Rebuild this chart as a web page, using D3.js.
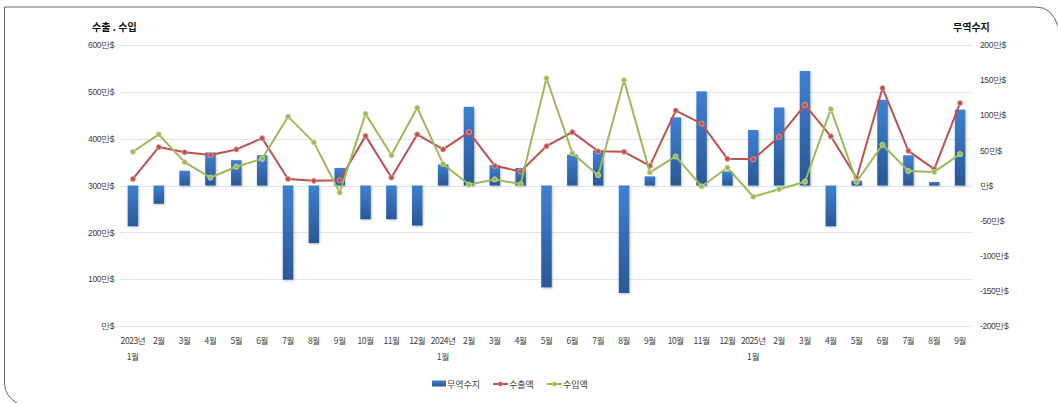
<!DOCTYPE html>
<html><head><meta charset="utf-8">
<script src="https://cdn.jsdelivr.net/npm/d3@7"></script>
<style>
html,body{margin:0;padding:0;background:#fff;}
svg{display:block;font-family:"Noto Sans CJK KR","Noto Sans",sans-serif;}
</style></head>
<body><svg id="c" width="1058" height="403"></svg>
<script>
const monthLabels = ["2023년","2월","3월","4월","5월","6월","7월","8월","9월","10월","11월","12월",
  "2024년","2월","3월","4월","5월","6월","7월","8월","9월","10월","11월","12월",
  "2025년","2월","3월","4월","5월","6월","7월","8월","9월"];
const monthSub = ["1월","","","","","","","","","","","","1월","","","","","","","","","","","","1월","","","","","","","",""];
const exportVals = [314,382,371,365,377,401,314,310,311,406,317,409,
  377,414,342,330,384,414,373,372,342,460,432,357,
  356,404,472,405,316,508,374,335,476];
const importVals = [372,409,350,317,340,357,447,392,285,453,365,466,
  346,302,313,303,529,369,322,525,328,362,298,338,
  276,292,308,463,308,387,331,329,367];
const balanceVals = [-58,-26,21,47,36,43,-134,-82,25,-48,-48,-57,
  30,112,29,25,-145,44,50,-153,13,97,134,20,
  79,111,163,-58,7,122,43,5,108];
const leftTicks = [0,100,200,300,400,500,600];
const rightTicks = [-200,-150,-100,-50,0,50,100,150,200];
const seriesNames = ["무역수지","수출액","수입액"];
const leftTitle = "수출 . 수입";
const rightTitle = "무역수지";

const svg = d3.select("#c");
const L=120, R=973, T=45, B=326;
const x = d3.scaleBand().domain(d3.range(monthLabels.length)).range([L,R]).padding(0);
const yL = d3.scaleLinear().domain([0,600]).range([B,T]);
const yR = d3.scaleLinear().domain([-200,200]).range([B,T]);
const cx = i => x(i)+x.bandwidth()/2;

const defs = svg.append("defs");
const g1 = defs.append("linearGradient").attr("id","barg").attr("x1",0).attr("y1",0).attr("x2",0).attr("y2",1);
g1.append("stop").attr("offset","0%").attr("stop-color","#3f80d2");
g1.append("stop").attr("offset","100%").attr("stop-color","#2a5896");
const f = defs.append("filter").attr("id","sh").attr("x","-30%").attr("y","-10%").attr("width","160%").attr("height","130%");
f.append("feDropShadow").attr("dx",0.8).attr("dy",1).attr("stdDeviation",0.8).attr("flood-color","#000").attr("flood-opacity",0.25);

// border
svg.append("path")
  .attr("d","M1058,26 Q1052,7 1036,7 L4.5,7 L4.5,384 Q5,396 17,403")
  .attr("fill","none").attr("stroke","#666").attr("stroke-width",1);

// gridlines
svg.append("g").selectAll("line").data(leftTicks).join("line")
  .attr("x1",L).attr("x2",R).attr("y1",d=>Math.round(yL(d))+0.5).attr("y2",d=>Math.round(yL(d))+0.5)
  .attr("stroke","#dbe5f1").attr("stroke-width",1);

// left axis
const axL = d3.axisLeft(yL).tickValues(leftTicks).tickSize(0).tickPadding(6)
  .tickFormat(d => (d===0?"":d)+"만$");
const gL = svg.append("g").attr("transform",`translate(${L},0)`).call(axL);
gL.select(".domain").remove();
gL.selectAll("text").attr("font-size",8.5).attr("fill","#404040").attr("letter-spacing",-0.4);

// right axis
const axR = d3.axisRight(yR).tickValues(rightTicks).tickSize(0).tickPadding(7)
  .tickFormat(d => (d===0?"":d)+"만$");
const gR = svg.append("g").attr("transform",`translate(${R},0)`).call(axR);
gR.select(".domain").remove();
gR.selectAll("text").attr("font-size",8.5).attr("fill","#404040").attr("letter-spacing",-0.4);

// titles
svg.append("text").attr("x",92).attr("y",31).attr("font-size",10).attr("font-weight","bold").attr("fill","#111").text(leftTitle);
svg.append("text").attr("x",953).attr("y",31).attr("font-size",10).attr("font-weight","bold").attr("fill","#111").text(rightTitle);

// x labels
const xg = svg.append("g");
xg.selectAll("text.m").data(monthLabels).join("text").attr("class","m")
  .attr("x",(d,i)=>cx(i)).attr("y",344).attr("text-anchor","middle")
  .attr("font-size",8.5).attr("fill","#404040").attr("letter-spacing",-0.4).text(d=>d);
xg.selectAll("text.s").data(monthSub).join("text").attr("class","s")
  .attr("x",(d,i)=>cx(i)).attr("y",360).attr("text-anchor","middle")
  .attr("font-size",8.5).attr("fill","#404040").text(d=>d);

// bars
const bw = 10.5;
svg.append("g").selectAll("rect").data(balanceVals).join("rect")
  .attr("x",(d,i)=>cx(i)-bw/2).attr("width",bw)
  .attr("y",d=>Math.min(yR(d),yR(0))).attr("height",d=>Math.abs(yR(d)-yR(0)))
  .attr("fill","url(#barg)").attr("filter","url(#sh)");

// lines
const line = d3.line().x((d,i)=>cx(i)).y(d=>yL(d));
function drawSeries(vals,color,light){
  svg.append("path").datum(vals).attr("d",line).attr("fill","none")
    .attr("stroke",color).attr("stroke-width",2).attr("stroke-linejoin","round");
  svg.append("g").selectAll("circle").data(vals).join("circle")
    .attr("cx",(d,i)=>cx(i)).attr("cy",d=>yL(d)).attr("r",2.6)
    .attr("fill",color).attr("stroke",light).attr("stroke-width",0.8);
}
drawSeries(exportVals,"#c0504d","#e9a7a5");
drawSeries(importVals,"#9bbb59","#cfe0a8");

// legend
const lg = svg.append("g").attr("transform","translate(0,384)");
lg.append("rect").attr("x",432).attr("y",-3.5).attr("width",14).attr("height",6).attr("fill","url(#barg)");
lg.append("text").attr("x",447).attr("y",3.5).attr("font-size",9).attr("fill","#404040").text(seriesNames[0]);
[[493,"#c0504d","#e9a7a5",seriesNames[1]],[547,"#9bbb59","#cfe0a8",seriesNames[2]]].forEach(([lx,c,lc,t])=>{
  lg.append("line").attr("x1",lx).attr("x2",lx+15).attr("y1",0).attr("y2",0).attr("stroke",c).attr("stroke-width",2);
  lg.append("circle").attr("cx",lx+7.5).attr("cy",0).attr("r",2.3).attr("fill",c).attr("stroke",lc).attr("stroke-width",0.6);
  lg.append("text").attr("x",lx+16).attr("y",3.5).attr("font-size",9).attr("fill","#404040").text(t);
});
</script></body></html>
